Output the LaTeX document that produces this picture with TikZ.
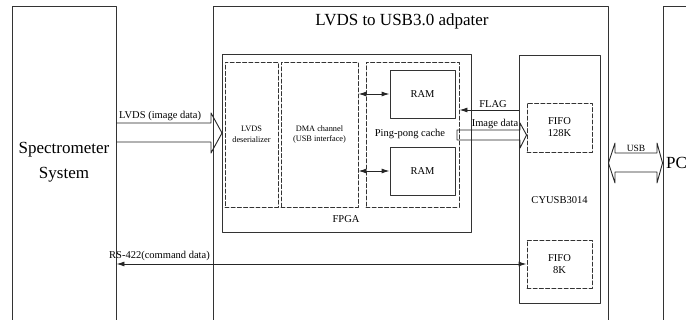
\documentclass[tikz,border=0pt]{standalone}
\usepackage{fontspec}
\setmainfont{Liberation Serif}
\usetikzlibrary{arrows.meta,positioning}

\begin{document}
\begin{tikzpicture}[x=1pt,y=-1pt,line cap=round,line join=round,
  box/.style={draw=black!80,line width=0.9pt,inner sep=0pt},
  dbox/.style={box,dash pattern=on 4pt off 2.2pt},
  lbl/.style={font=\fontsize{10.5}{12}\selectfont,inner sep=0pt},
  tinylbl/.style={font=\fontsize{8.3}{10.5}\selectfont,inner sep=0pt,align=center},
  biglbl/.style={font=\fontsize{17}{25}\selectfont,inner sep=0pt,align=center},
  conn/.style={draw=black!85,line width=0.9pt},
  tip/.style={-{Latex[length=8pt,width=5pt]}},
  tips/.style={{Latex[length=8pt,width=5pt]}-{Latex[length=8pt,width=5pt]}}]
  \useasboundingbox (0,0) rectangle (686,320);
  \clip (0,0) rectangle (686,320);
  \node[box,minimum width=104pt,minimum height=324pt] (spectro) at (64,168) {};
  \node[box,minimum width=395pt,minimum height=324pt] (adapter) at (410.5,168) {};
  \node[box,minimum width=60pt,minimum height=324pt] (pcbox) at (693,168) {};
  \node[biglbl] (spectext) at (64,162) {Spectrometer\\System};
  \node[biglbl] (title) at (402,21) {LVDS to USB3.0 adpater};
  \node[biglbl,anchor=west] (pctext) at (666,163) {PC};

  \node[box,minimum width=249pt,minimum height=178pt] (fpga) at (346.5,143) {};
  \node[dbox,tinylbl,minimum width=53pt,minimum height=145pt] (deser) at (251.5,134.5) {LVDS\\deserializer};
  \node[dbox,tinylbl,minimum width=77pt,minimum height=145pt] (dma) at (319.5,134.5) {DMA channel\\(USB interface)};
  \node[dbox,minimum width=93pt,minimum height=145pt] (pingpong) at (412.5,134.5) {};
  \node[box,lbl,minimum width=65pt,minimum height=48pt] (ramA) at (422.5,94) {RAM};
  \node[box,lbl,minimum width=65pt,minimum height=48pt] (ramB) at (422.5,171) {RAM};
  \node[lbl,fill=white,inner sep=1pt] (pptext) at (410,134) {Ping-pong cache};
  \node[lbl] (fpgatext) at (346,219) {FPGA};

  \node[box,minimum width=81pt,minimum height=248pt] (cyusb) at (559.5,179) {};
  \node[dbox,lbl,align=center,minimum width=65pt,minimum height=49pt] (fifoA) at (559.5,127.5) {FIFO\\128K};
  \node[dbox,lbl,align=center,minimum width=65pt,minimum height=48pt] (fifoB) at (559.5,264) {FIFO\\8K};
  \node[lbl] (cytext) at (559.5,200) {CYUSB3014};

  \draw[conn,tips] (ramA.west -| dma.east) -- (ramA.west);
  \draw[conn,tips] (ramB.west -| dma.east) -- (ramB.west);

  \coordinate (flagR) at (cyusb.west |- 0,110);
  \draw[conn,tip] (flagR) -- (flagR -| pingpong.east);
  \node[lbl,anchor=south] (flagtext) at (493,108) {FLAG};

  \draw[conn] (457,130) -- (520,130) -- (520,123) -- (fifoA.west |- 0,135) -- (520,148) -- (520,140) -- (457,140) -- cycle;
  \node[lbl,anchor=south] (imgtext) at (495,129) {Image data};

  \draw[conn] (spectro.east |- 0,123) -- (211,123) -- (211,113) -- (222,133) -- (211,153) -- (211,142) -- (spectro.east |- 0,142);
  \node[lbl,anchor=south west] (lvdstext) at (119,121) {LVDS (image data)};

  \draw[conn] (adapter.east |- 0,163) -- (615,143) -- (615,153) -- (657,153) -- (657,143) -- (pcbox.west |- 0,163) -- (657,183) -- (657,172) -- (615,172) -- (615,183) -- cycle;
  \node[lbl,font=\fontsize{9.5}{11}\selectfont,anchor=south] (usbtext) at (636,152) {USB};

  \coordinate (rsL) at (spectro.east |- 0,264);
  \draw[conn,tips] (rsL) -- (rsL -| fifoB.west);
  \node[lbl,anchor=south west] (rstext) at (109,261) {RS-422(command data)};
\end{tikzpicture}
\end{document}
